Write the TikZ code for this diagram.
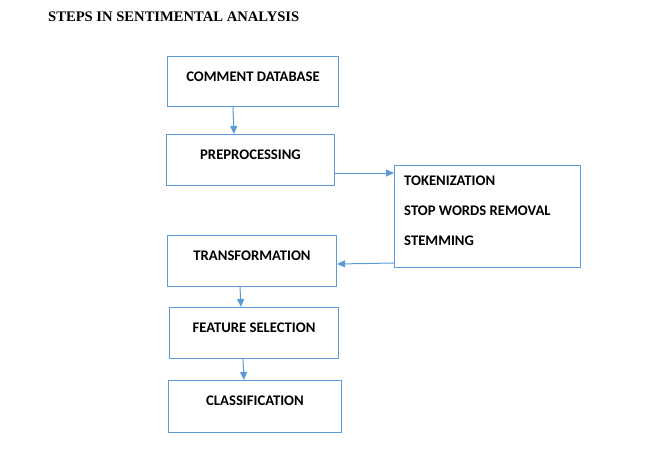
\documentclass[tikz,border=0pt]{standalone}
\usepackage{fontspec}
\setmainfont{Carlito}
\newfontfamily\titlefont{Liberation Serif}
\usetikzlibrary{arrows.meta}
\definecolor{lineblue}{HTML}{5B9BD5}
\begin{document}
\begin{tikzpicture}[x=1pt,y=-1pt,
  box/.style={draw=lineblue, line width=1pt, inner sep=0pt, anchor=north west,
    font=\bfseries\fontsize{14.67}{17.6}\selectfont, align=center, text height=24.5pt},
  linetext/.style={anchor=base west, inner sep=0pt, font=\bfseries\fontsize{14.67}{17.6}\selectfont},
  arr/.style={draw=lineblue, line width=1pt, -{Triangle[length=8pt,width=7pt]}}]
\useasboundingbox (0,0) rectangle (660,453);
\node[anchor=base west, inner sep=0pt, font=\titlefont\bfseries\fontsize{14.6}{18}\selectfont] (title) at (48,21) {STEPS IN SENTIMENTAL ANALYSIS};
\node[box, minimum width=171pt, text depth=25.5pt] (b1) at (167,56) {COMMENT DATABASE};
\node[box, minimum width=168pt, text depth=26.5pt] (b2) at (166,134) {PREPROCESSING};
\node[draw=lineblue, line width=1pt, anchor=north west, minimum width=186pt, minimum height=102pt, inner sep=0pt] (b3) at (394,165) {};
\node[linetext] (t1) at (404,185) {TOKENIZATION};
\node[linetext] (t2) at (404,215) {STOP WORDS REMOVAL};
\node[linetext] (t3) at (404,245) {STEMMING};
\node[box, minimum width=169pt, text depth=26.5pt] (b4) at (167,235) {TRANSFORMATION};
\node[box, minimum width=169pt, text depth=26.5pt] (b5) at (169,307) {FEATURE SELECTION};
\node[box, minimum width=173pt, text depth=27.5pt] (b6) at (168,380) {CLASSIFICATION};
\draw[arr] ([xshift=66pt]b1.south west) -- ([xshift=68pt]b2.north west);
\draw[arr] ([yshift=-39pt]b2.north east) -- ([yshift=-8pt]b3.north west);
\draw[arr] ([yshift=-98pt]b3.north west) -- ([yshift=-29pt]b4.north east);
\draw[arr] ([xshift=73pt]b4.south west) -- ([xshift=72pt]b5.north west);
\draw[arr] ([xshift=74pt]b5.south west) -- ([xshift=76pt]b6.north west);
\end{tikzpicture}
\end{document}
